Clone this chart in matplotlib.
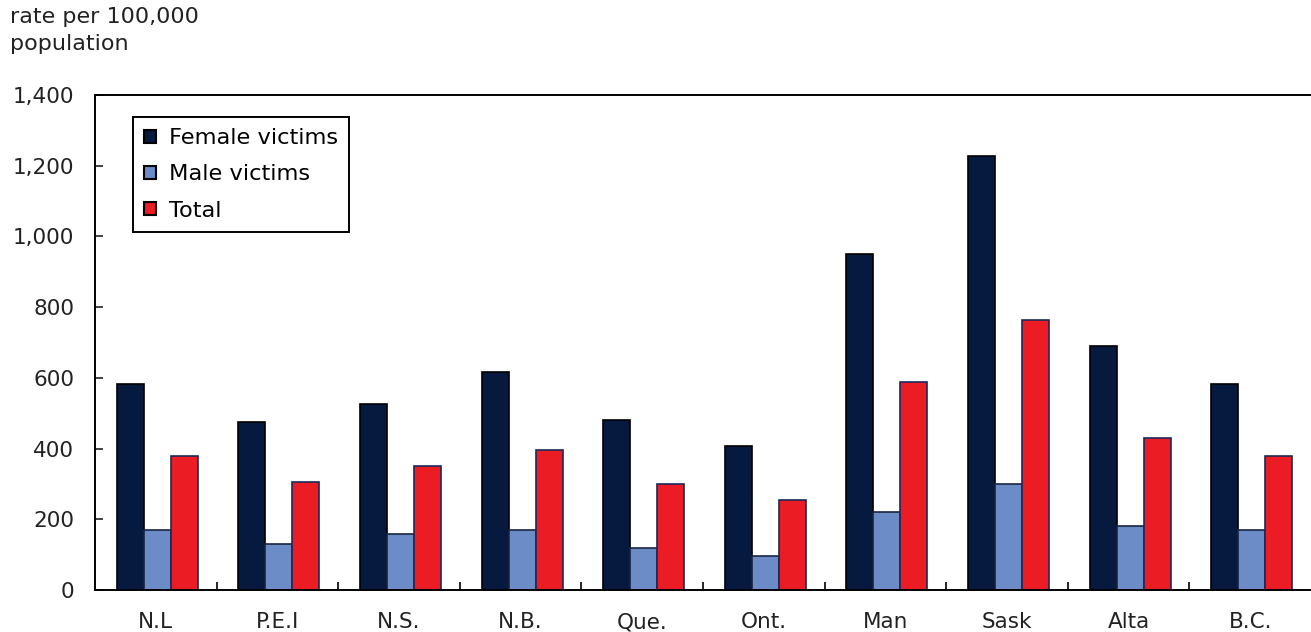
import numpy as np
import matplotlib
matplotlib.use("Agg")
import matplotlib.pyplot as plt
from matplotlib.ticker import FuncFormatter, FixedLocator

# data (rate per 100,000 population)
provinces = ["N.L", "P.E.I", "N.S.", "N.B.", "Que.", "Ont.", "Man", "Sask", "Alta", "B.C."]
female = [583, 475, 526, 617, 481, 407, 950, 1227, 690, 582]
male = [170, 130, 158, 170, 119, 96, 221, 300, 181, 170]
total = [379, 305, 351, 396, 300, 255, 588, 764, 430, 379]

series_names = ["Female victims", "Male victims", "Total"]
colors = ["#06193f", "#6b8cc6", "#ec1c24"]
edges = ["#000000", "#1a2540", "#1a2a5a"]

plt.rcParams["font.family"] = ["DejaVu Sans"]
fs = 15.5

fig = plt.figure(figsize=(13.11, 6.32), dpi=100)
ax = fig.add_axes([95 / 1311, 1 - 590 / 632, 1 - 95 / 1311, (590 - 95) / 632])

x = np.arange(len(provinces))
w = 0.222
for i, (vals, name) in enumerate(zip([female, male, total], series_names)):
    ax.bar(x + (i - 1) * w + 0.012, vals, width=w, color=colors[i],
           edgecolor=edges[i], linewidth=1.2, label=name, zorder=2)

ax.set_xlim(-0.5, len(provinces) - 0.5)
ax.set_ylim(0, 1400)
ax.set_yticks(np.arange(0, 1401, 200))
ax.yaxis.set_major_formatter(FuncFormatter(lambda v, p: f"{int(v):,}"))
ax.set_xticks(x)
ax.set_xticklabels(provinces)
ax.xaxis.set_minor_locator(FixedLocator(np.arange(0.5, len(provinces) - 1, 1)))

ax.tick_params(axis="x", which="major", length=0, pad=16, labelsize=fs, colors="#222222")
ax.tick_params(axis="x", which="minor", direction="in", length=6, width=1.2)
ax.tick_params(axis="y", direction="in", length=6, width=1.2, pad=15, labelsize=fs,
               colors="#222222")

for side in ["left", "top", "bottom"]:
    ax.spines[side].set_linewidth(1.4)
    ax.spines[side].set_color("black")
ax.spines["right"].set_visible(False)

leg = ax.legend(loc="upper left", bbox_to_anchor=(38 / 1216, 1 - 22 / 495),
                prop={"size": 16.2}, fancybox=False, framealpha=1, edgecolor="black",
                handlelength=0.5, handleheight=0.5, handletextpad=0.6,
                labelspacing=0.72, borderpad=0.5, borderaxespad=0)
leg.get_frame().set_linewidth(1.4)
for h in leg.legend_handles:
    h.set_edgecolor("black")
    h.set_linewidth(1.5)

fig.text(10 / 1311, 1 - 7 / 632, "rate per 100,000\npopulation", ha="left", va="top",
         fontsize=16, color="#222222", linespacing=1.45)

fig.savefig("out.png", dpi=100)
